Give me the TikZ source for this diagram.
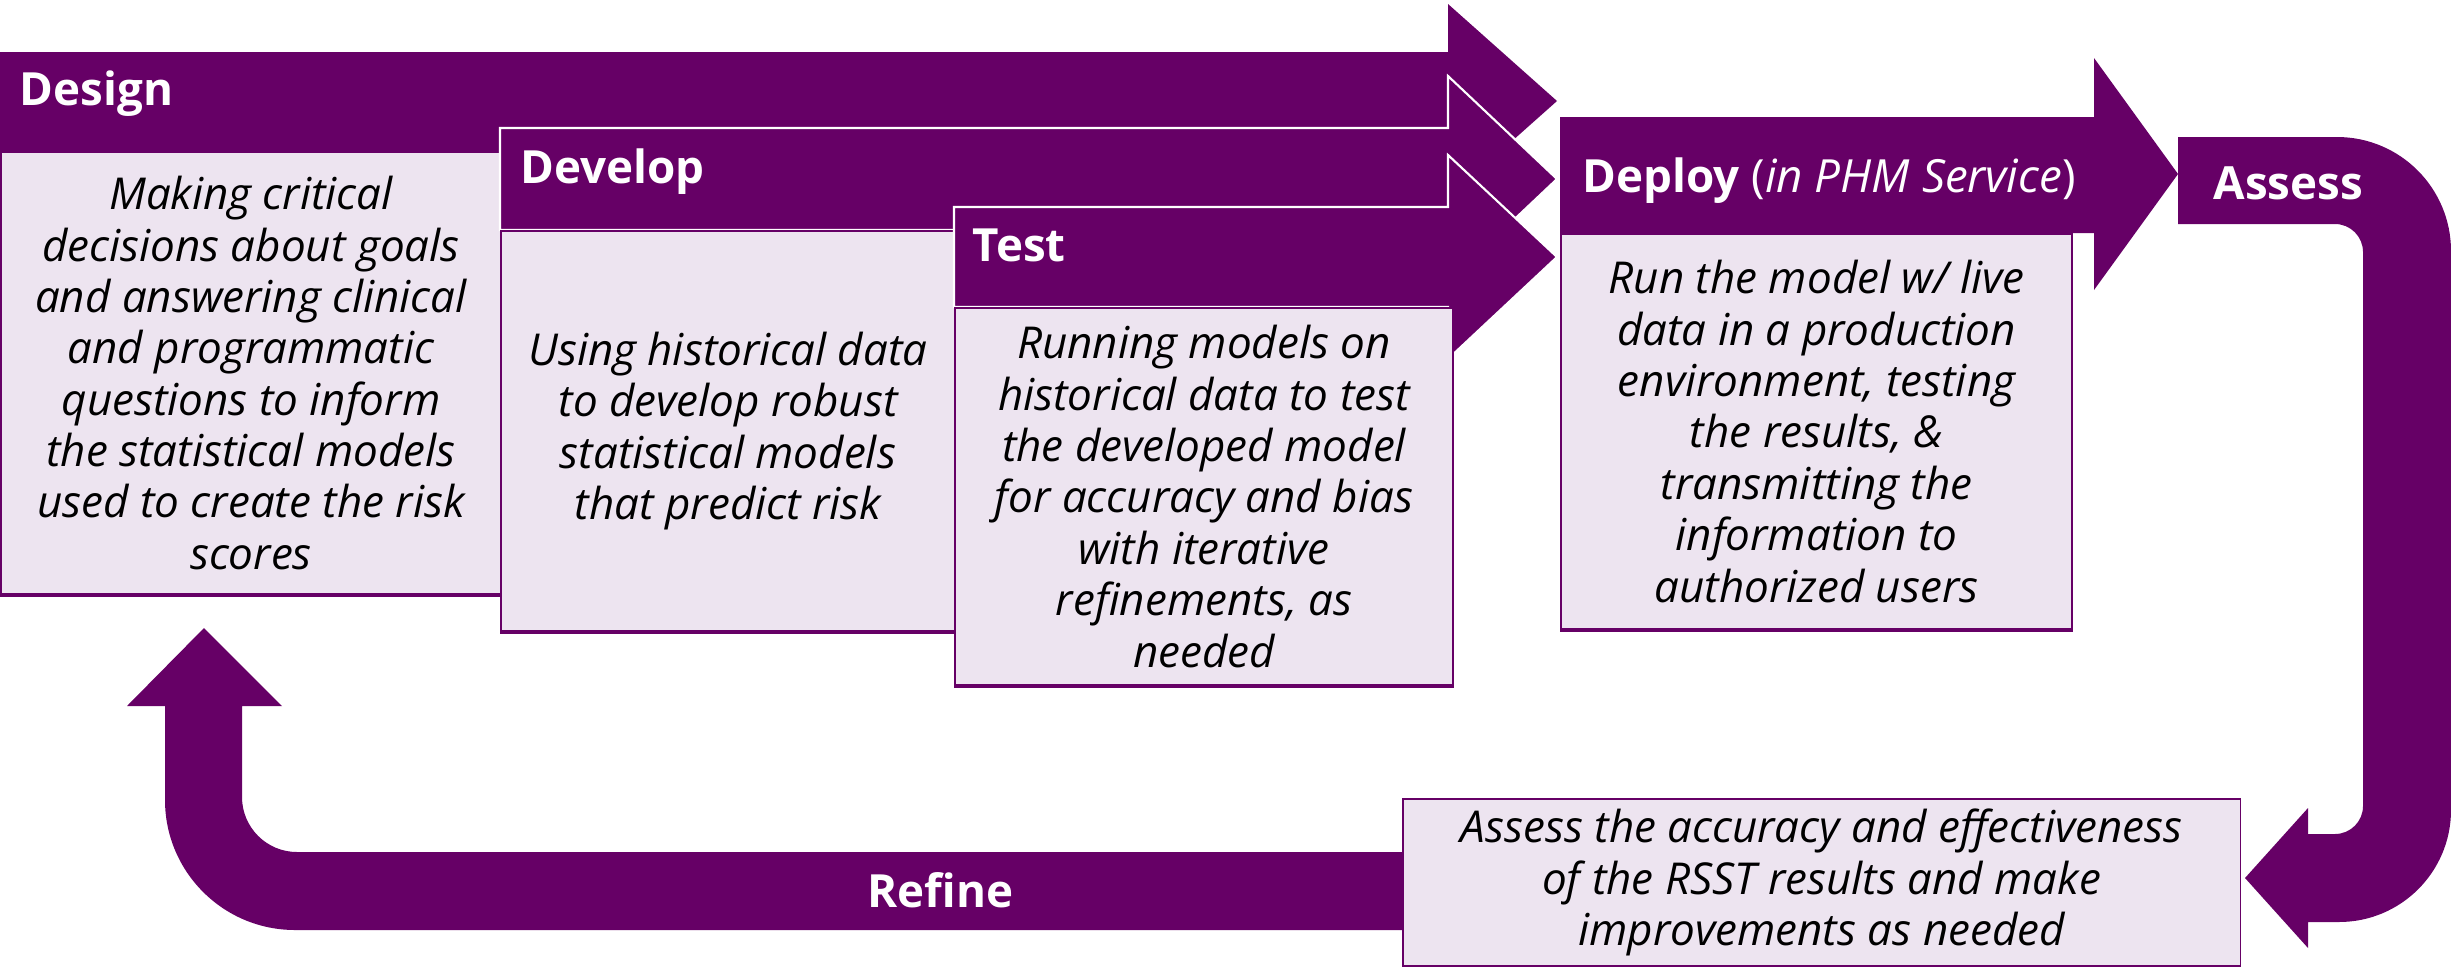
\documentclass[tikz,border=0pt]{standalone}
\usepackage{fontspec}
\setmainfont{Open Sans}
\definecolor{phmpurple}{RGB}{102,0,102}
\definecolor{phmlilac}{RGB}{237,228,240}
\newcommand{\stagefont}{\fontsize{12.5}{14.6}\selectfont\itshape}
\newcommand{\titlefont}{\fontsize{13}{15}\selectfont\bfseries}
\tikzset{
  stagebar/.style={fill=phmpurple, draw=white, line width=0.6pt},
  loopbar/.style={fill=phmpurple},
  stagebox/.style={draw=phmpurple, fill=phmlilac, line width=0.5pt, inner sep=0pt,
    align=center, font=\stagefont, anchor=north west},
  boxbase/.style={draw=phmpurple, line width=1.2pt},
  stagetitle/.style={text=white, font=\titlefont, anchor=base west, inner sep=0pt},
}
\begin{document}
\begin{tikzpicture}[x=0.01cm, y=-0.01cm]
  \useasboundingbox (0,0) rectangle (2451,966);
  % design
  \fill[phmpurple] (0,52) -- (1448,52) -- (1448,4) -- (1557,101) -- (1448,198) -- (1448,151) -- (0,151) -- cycle;
  \node[stagebox, minimum width=5cm, minimum height=4.42cm] (design) at (0,151)
    {Making critical\\ decisions about goals\\ and answering clinical\\ and programmatic\\
     questions to inform\\ the statistical models\\ used to create the risk\\ scores};
  % develop
  \draw[stagebar] (500,128) -- (1448,128) -- (1448,76) -- (1557,179) -- (1448,282) -- (1448,230) -- (500,230) -- cycle;
  \node[stagebox, minimum width=4.54cm, minimum height=4cm] (develop) at (500,230)
    {Using historical data\\ to develop robust\\ statistical models\\ that predict risk};
  % test
  \draw[stagebar] (954,207) -- (1448,207) -- (1448,155) -- (1557,257) -- (1448,359) -- (1448,307) -- (954,307) -- cycle;
  \node[stagebox, minimum width=4.98cm, minimum height=3.77cm] (test) at (954,307)
    {Running models on\\ historical data to test\\ the developed model\\ for accuracy and bias\\
     with iterative\\ refinements, as\\ needed};
  % deploy
  \fill[phmpurple] (1560,117) -- (2094,117) -- (2094,58) -- (2178,174) -- (2094,290) -- (2094,233) -- (1560,233) -- cycle;
  \node[stagebox, minimum width=5.11cm, minimum height=3.95cm] (deploy) at (1560,233)
    {Run the model w/ live\\ data in a production\\ environment, testing\\ the results, \&\\
     transmitting the\\ information to\\ authorized users};
  % assess and refine loop
  \fill[loopbar] (2178,137) -- (2337,137) arc (270:360:114) -- (2451,810) arc (0:90:112)
    -- (2308,922) -- (2308,948) -- (2245,878) -- (2308,808) -- (2308,834) -- (2335,834)
    arc (90:0:28) -- (2363,252) arc (0:-90:28) -- (2178,224) -- cycle;
  \fill[loopbar] (1420,852) -- (297,852) arc (90:180:55) -- (242,706) -- (282,706) -- (204,628)
    -- (127,706) -- (165,706) -- (165,800) arc (180:90:130) -- (1420,930) -- cycle;
  \node[stagebox, minimum width=8.37cm, minimum height=1.67cm] (assess) at (1402,798)
    {Assess the accuracy and effectiveness\\ of the RSST results and make\\ improvements as needed};
  \foreach \b in {design,develop,test,deploy,assess}
    \draw[boxbase] (\b.south west) -- (\b.south east);
  % titles
  \node[stagetitle] (designlbl) at (19,105) {Design};
  \node[stagetitle] (developlbl) at (520,183) {Develop};
  \node[stagetitle] (testlbl) at (972,261) {Test};
  \node[stagetitle] (deploylbl) at (1582,192) {Deploy \textnormal{(\textit{in PHM Service})}};
  \node[stagetitle] (assesslbl) at (2213,199) {Assess};
  \node[stagetitle] (refinelbl) at (867,907) {Refine};
\end{tikzpicture}
\end{document}
